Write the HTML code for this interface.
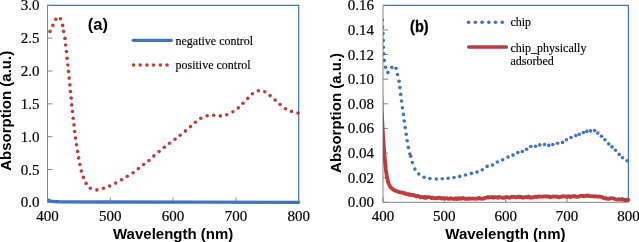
<!DOCTYPE html><html><head><meta charset="utf-8"><style>html,body{margin:0;padding:0;background:#fff;}svg{display:block;will-change:transform;}.tk{font-family:"Liberation Serif",serif;font-size:15px;fill:#000;stroke:#000;stroke-width:0.2px;}.lg{font-family:"Liberation Serif",serif;font-size:12px;fill:#000;stroke:#000;stroke-width:0.15px;}.ti{font-family:"Liberation Sans",sans-serif;font-size:15px;font-weight:bold;fill:#000;}.pl{font-family:"Liberation Sans",sans-serif;font-size:16.5px;font-weight:bold;fill:#000;}</style></head><body>
<svg width="639" height="242" viewBox="0 0 639 242">
<defs><clipPath id="ca"><rect x="48.00" y="0" width="260" height="242"/></clipPath>
<clipPath id="cb"><rect x="383.00" y="0" width="260" height="242"/></clipPath></defs>
<path d="M47.50,5.30H298.70V202.40" fill="none" stroke="#4174BA" stroke-width="1.2"/>
<path d="M47.50,5.30V202.40H298.70" fill="none" stroke="#868686" stroke-width="1"/>
<path d="M47.50,202.40h5" stroke="#868686" stroke-width="1"/>
<text class="tk" x="39.60" y="207.40" text-anchor="end">0.0</text>
<path d="M47.50,169.55h5" stroke="#868686" stroke-width="1"/>
<text class="tk" x="39.60" y="174.55" text-anchor="end">0.5</text>
<path d="M47.50,136.70h5" stroke="#868686" stroke-width="1"/>
<text class="tk" x="39.60" y="141.70" text-anchor="end">1.0</text>
<path d="M47.50,103.85h5" stroke="#868686" stroke-width="1"/>
<text class="tk" x="39.60" y="108.85" text-anchor="end">1.5</text>
<path d="M47.50,71.00h5" stroke="#868686" stroke-width="1"/>
<text class="tk" x="39.60" y="76.00" text-anchor="end">2.0</text>
<path d="M47.50,38.15h5" stroke="#868686" stroke-width="1"/>
<text class="tk" x="39.60" y="43.15" text-anchor="end">2.5</text>
<path d="M47.50,5.30h5" stroke="#868686" stroke-width="1"/>
<text class="tk" x="39.60" y="10.30" text-anchor="end">3.0</text>
<path d="M47.50,202.40v-5" stroke="#868686" stroke-width="1"/>
<text class="tk" x="47.50" y="221.00" text-anchor="middle">400</text>
<path d="M110.30,202.40v-5" stroke="#868686" stroke-width="1"/>
<text class="tk" x="110.30" y="221.00" text-anchor="middle">500</text>
<path d="M173.10,202.40v-5" stroke="#868686" stroke-width="1"/>
<text class="tk" x="173.10" y="221.00" text-anchor="middle">600</text>
<path d="M235.90,202.40v-5" stroke="#868686" stroke-width="1"/>
<text class="tk" x="235.90" y="221.00" text-anchor="middle">700</text>
<path d="M298.70,202.40v-5" stroke="#868686" stroke-width="1"/>
<text class="tk" x="298.70" y="221.00" text-anchor="middle">800</text>
<text class="ti" x="113.00" y="238.7">Wavelength (nm)</text>
<text class="ti" transform="translate(11.30,110.80) rotate(-90)" text-anchor="middle">Absorption (a.u.)</text>
<path d="M383.00,5.30H628.40V202.30" fill="none" stroke="#4174BA" stroke-width="1.2"/>
<path d="M383.00,5.30V202.30H628.40" fill="none" stroke="#868686" stroke-width="1"/>
<path d="M383.00,202.30h5" stroke="#868686" stroke-width="1"/>
<text class="tk" x="373.90" y="207.30" text-anchor="end">0.00</text>
<path d="M383.00,177.68h5" stroke="#868686" stroke-width="1"/>
<text class="tk" x="373.90" y="182.68" text-anchor="end">0.02</text>
<path d="M383.00,153.05h5" stroke="#868686" stroke-width="1"/>
<text class="tk" x="373.90" y="158.05" text-anchor="end">0.04</text>
<path d="M383.00,128.43h5" stroke="#868686" stroke-width="1"/>
<text class="tk" x="373.90" y="133.43" text-anchor="end">0.06</text>
<path d="M383.00,103.80h5" stroke="#868686" stroke-width="1"/>
<text class="tk" x="373.90" y="108.80" text-anchor="end">0.08</text>
<path d="M383.00,79.18h5" stroke="#868686" stroke-width="1"/>
<text class="tk" x="373.90" y="84.18" text-anchor="end">0.10</text>
<path d="M383.00,54.55h5" stroke="#868686" stroke-width="1"/>
<text class="tk" x="373.90" y="59.55" text-anchor="end">0.12</text>
<path d="M383.00,29.93h5" stroke="#868686" stroke-width="1"/>
<text class="tk" x="373.90" y="34.93" text-anchor="end">0.14</text>
<path d="M383.00,5.30h5" stroke="#868686" stroke-width="1"/>
<text class="tk" x="373.90" y="10.30" text-anchor="end">0.16</text>
<path d="M383.00,202.30v-5" stroke="#868686" stroke-width="1"/>
<text class="tk" x="383.00" y="221.00" text-anchor="middle">400</text>
<path d="M444.35,202.30v-5" stroke="#868686" stroke-width="1"/>
<text class="tk" x="444.35" y="221.00" text-anchor="middle">500</text>
<path d="M505.70,202.30v-5" stroke="#868686" stroke-width="1"/>
<text class="tk" x="505.70" y="221.00" text-anchor="middle">600</text>
<path d="M567.05,202.30v-5" stroke="#868686" stroke-width="1"/>
<text class="tk" x="567.05" y="221.00" text-anchor="middle">700</text>
<path d="M628.40,202.30v-5" stroke="#868686" stroke-width="1"/>
<text class="tk" x="628.40" y="221.00" text-anchor="middle">800</text>
<text class="ti" x="445.30" y="238.7">Wavelength (nm)</text>
<text class="ti" transform="translate(341.00,112.90) rotate(-90)" text-anchor="middle">Absorption (a.u.)</text>
<g clip-path="url(#ca)"><polyline points="47.50,199.80 49.00,200.60 51.00,201.10 54.00,201.50 60.00,201.80 100.00,202.00 200.00,202.10 298.70,202.30" fill="none" stroke="#4174BA" stroke-width="3.3" stroke-linecap="round" stroke-linejoin="round"/></g>
<circle cx="50.0" cy="31.4" r="1.8" fill="#BE3C3C"/>
<circle cx="52.9" cy="25.4" r="1.8" fill="#BE3C3C"/>
<circle cx="55.8" cy="19.3" r="1.8" fill="#BE3C3C"/>
<circle cx="60.5" cy="18.7" r="1.8" fill="#BE3C3C"/>
<circle cx="62.6" cy="25.4" r="1.8" fill="#BE3C3C"/>
<circle cx="63.6" cy="31.4" r="1.8" fill="#BE3C3C"/>
<circle cx="65.0" cy="38.4" r="1.8" fill="#BE3C3C"/>
<circle cx="65.6" cy="45.0" r="1.8" fill="#BE3C3C"/>
<circle cx="66.5" cy="51.6" r="1.8" fill="#BE3C3C"/>
<circle cx="67.1" cy="58.2" r="1.8" fill="#BE3C3C"/>
<circle cx="67.8" cy="65.0" r="1.8" fill="#BE3C3C"/>
<circle cx="68.5" cy="71.4" r="1.8" fill="#BE3C3C"/>
<circle cx="69.2" cy="78.1" r="1.8" fill="#BE3C3C"/>
<circle cx="69.9" cy="84.9" r="1.8" fill="#BE3C3C"/>
<circle cx="70.5" cy="91.5" r="1.8" fill="#BE3C3C"/>
<circle cx="71.2" cy="98.1" r="1.8" fill="#BE3C3C"/>
<circle cx="71.7" cy="104.9" r="1.8" fill="#BE3C3C"/>
<circle cx="72.5" cy="111.5" r="1.8" fill="#BE3C3C"/>
<circle cx="73.2" cy="118.3" r="1.8" fill="#BE3C3C"/>
<circle cx="74.0" cy="124.9" r="1.8" fill="#BE3C3C"/>
<circle cx="74.7" cy="131.5" r="1.8" fill="#BE3C3C"/>
<circle cx="75.5" cy="138.1" r="1.8" fill="#BE3C3C"/>
<circle cx="76.5" cy="144.8" r="1.8" fill="#BE3C3C"/>
<circle cx="77.6" cy="151.4" r="1.8" fill="#BE3C3C"/>
<circle cx="78.7" cy="157.9" r="1.8" fill="#BE3C3C"/>
<circle cx="79.9" cy="164.5" r="1.8" fill="#BE3C3C"/>
<circle cx="81.3" cy="171.1" r="1.8" fill="#BE3C3C"/>
<circle cx="83.4" cy="177.4" r="1.8" fill="#BE3C3C"/>
<circle cx="86.1" cy="183.4" r="1.8" fill="#BE3C3C"/>
<circle cx="90.4" cy="188.3" r="1.8" fill="#BE3C3C"/>
<circle cx="96.9" cy="189.9" r="1.8" fill="#BE3C3C"/>
<circle cx="103.4" cy="188.3" r="1.8" fill="#BE3C3C"/>
<circle cx="109.6" cy="186.0" r="1.8" fill="#BE3C3C"/>
<circle cx="115.7" cy="183.1" r="1.8" fill="#BE3C3C"/>
<circle cx="121.6" cy="179.7" r="1.8" fill="#BE3C3C"/>
<circle cx="127.3" cy="176.3" r="1.8" fill="#BE3C3C"/>
<circle cx="133.1" cy="172.7" r="1.8" fill="#BE3C3C"/>
<circle cx="138.4" cy="168.6" r="1.8" fill="#BE3C3C"/>
<circle cx="143.6" cy="164.5" r="1.8" fill="#BE3C3C"/>
<circle cx="148.9" cy="160.5" r="1.8" fill="#BE3C3C"/>
<circle cx="153.9" cy="155.9" r="1.8" fill="#BE3C3C"/>
<circle cx="159.1" cy="151.6" r="1.8" fill="#BE3C3C"/>
<circle cx="164.3" cy="147.3" r="1.8" fill="#BE3C3C"/>
<circle cx="169.5" cy="143.2" r="1.8" fill="#BE3C3C"/>
<circle cx="175.0" cy="139.3" r="1.8" fill="#BE3C3C"/>
<circle cx="180.2" cy="135.2" r="1.8" fill="#BE3C3C"/>
<circle cx="185.5" cy="130.9" r="1.8" fill="#BE3C3C"/>
<circle cx="190.5" cy="126.6" r="1.8" fill="#BE3C3C"/>
<circle cx="195.4" cy="122.3" r="1.8" fill="#BE3C3C"/>
<circle cx="200.8" cy="118.3" r="1.8" fill="#BE3C3C"/>
<circle cx="207.1" cy="115.7" r="1.8" fill="#BE3C3C"/>
<circle cx="213.6" cy="115.3" r="1.8" fill="#BE3C3C"/>
<circle cx="220.3" cy="115.9" r="1.8" fill="#BE3C3C"/>
<circle cx="226.8" cy="114.7" r="1.8" fill="#BE3C3C"/>
<circle cx="232.9" cy="111.8" r="1.8" fill="#BE3C3C"/>
<circle cx="238.3" cy="107.9" r="1.8" fill="#BE3C3C"/>
<circle cx="243.0" cy="103.2" r="1.8" fill="#BE3C3C"/>
<circle cx="247.7" cy="98.4" r="1.8" fill="#BE3C3C"/>
<circle cx="252.4" cy="93.7" r="1.8" fill="#BE3C3C"/>
<circle cx="258.4" cy="90.8" r="1.8" fill="#BE3C3C"/>
<circle cx="264.7" cy="91.7" r="1.8" fill="#BE3C3C"/>
<circle cx="270.1" cy="95.6" r="1.8" fill="#BE3C3C"/>
<circle cx="275.1" cy="100.1" r="1.8" fill="#BE3C3C"/>
<circle cx="280.1" cy="104.5" r="1.8" fill="#BE3C3C"/>
<circle cx="285.5" cy="108.8" r="1.8" fill="#BE3C3C"/>
<circle cx="291.5" cy="111.4" r="1.8" fill="#BE3C3C"/>
<circle cx="298.0" cy="113.1" r="1.8" fill="#BE3C3C"/>
<g clip-path="url(#cb)">
<polyline points="381.30,96.00 381.60,110.00 382.30,122.00 383.30,140.00 384.20,152.00 385.00,161.00 385.90,170.00 386.90,177.00 388.40,183.00 390.60,187.30 393.50,189.80 397.50,191.60 402.00,192.59 403.10,192.68 404.20,193.59 405.30,193.19 406.40,194.05 407.50,194.15 408.60,194.08 409.70,194.93 410.80,194.58 411.90,195.24 413.00,194.99 414.10,195.20 415.20,195.78 416.30,196.45 417.40,195.79 418.50,196.10 419.60,196.77 420.70,197.33 421.80,197.07 422.90,197.01 424.00,197.79 425.10,196.76 426.20,197.83 427.30,197.23 428.40,197.15 429.50,197.20 430.60,197.52 431.70,198.22 432.80,197.54 433.90,198.11 435.00,198.27 436.10,197.98 437.20,198.23 438.30,197.68 439.40,197.71 440.50,197.92 441.60,198.53 442.70,198.26 443.80,198.16 444.90,198.52 446.00,198.40 447.10,198.25 448.20,198.86 449.30,198.75 450.40,198.22 451.50,198.62 452.60,198.57 453.70,199.00 454.80,198.83 455.90,198.31 457.00,199.15 458.10,198.13 459.20,198.50 460.30,198.91 461.40,198.17 462.50,198.56 463.60,198.01 464.70,198.75 465.80,198.86 466.90,198.62 468.00,198.97 469.10,198.29 470.20,198.73 471.30,198.60 472.40,198.57 473.50,198.41 474.60,198.86 475.70,198.97 476.80,198.39 477.90,198.60 479.00,197.86 480.10,198.61 481.20,198.52 482.30,198.92 483.40,198.70 484.50,197.92 485.60,197.79 486.70,197.87 487.80,197.01 488.90,197.52 490.00,197.15 491.10,197.07 492.20,196.98 493.30,197.82 494.40,197.03 495.50,197.16 496.60,197.31 497.70,197.87 498.80,196.90 499.90,197.32 501.00,197.43 502.10,197.81 503.20,197.71 504.30,197.75 505.40,197.03 506.50,197.18 507.60,197.10 508.70,197.71 509.80,197.79 510.90,196.80 512.00,196.82 513.10,196.87 514.20,196.86 515.30,197.14 516.40,197.25 517.50,196.85 518.60,196.52 519.70,197.01 520.80,196.94 521.90,197.17 523.00,197.63 524.10,197.31 525.20,197.09 526.30,197.21 527.40,197.27 528.50,196.52 529.60,197.53 530.70,197.38 531.80,197.49 532.90,197.39 534.00,196.90 535.10,196.90 536.20,196.54 537.30,197.17 538.40,196.48 539.50,196.48 540.60,196.64 541.70,196.58 542.80,196.78 543.90,196.42 545.00,196.35 546.10,196.52 547.20,196.45 548.30,196.75 549.40,196.34 550.50,197.34 551.60,197.02 552.70,196.45 553.80,196.56 554.90,196.67 556.00,196.68 557.10,196.38 558.20,197.24 559.30,197.40 560.40,196.75 561.50,196.75 562.60,196.25 563.70,196.25 564.80,196.52 565.90,196.40 567.00,197.05 568.10,196.23 569.20,196.04 570.30,197.14 571.40,196.61 572.50,196.13 573.60,196.58 574.70,195.94 575.80,196.49 576.90,196.96 578.00,196.76 579.10,196.49 580.20,195.90 581.30,195.96 582.40,195.66 583.50,196.32 584.60,195.96 585.70,196.20 586.80,195.61 587.90,195.42 589.00,196.07 590.10,196.23 591.20,196.06 592.30,196.21 593.40,196.42 594.50,196.53 595.60,196.12 596.70,196.67 597.80,196.65 598.90,196.42 600.00,196.58 601.10,197.05 602.20,197.19 603.30,197.88 604.40,198.36 605.50,197.89 606.60,198.60 607.70,198.78 608.80,198.86 609.90,198.28 611.00,198.22 612.10,198.35 613.20,198.44 614.30,198.57 615.40,199.17 616.50,199.57 617.60,199.56 618.70,199.20 619.80,199.47 620.90,199.71 622.00,198.92 623.10,199.68 624.20,200.04 625.30,199.95 626.40,199.98 627.50,199.72 628.40,199.80" fill="none" stroke="#BE3C3C" stroke-width="3.8" stroke-linecap="round" stroke-linejoin="round"/>
<circle cx="381.0" cy="13.3" r="1.8" fill="#4174BA"/>
<circle cx="382.3" cy="20.1" r="1.8" fill="#4174BA"/>
<circle cx="382.6" cy="26.9" r="1.8" fill="#4174BA"/>
<circle cx="383.0" cy="33.6" r="1.8" fill="#4174BA"/>
<circle cx="383.2" cy="40.4" r="1.8" fill="#4174BA"/>
<circle cx="383.4" cy="47.2" r="1.8" fill="#4174BA"/>
<circle cx="383.8" cy="53.8" r="1.8" fill="#4174BA"/>
<circle cx="384.3" cy="60.4" r="1.8" fill="#4174BA"/>
<circle cx="385.5" cy="67.2" r="1.8" fill="#4174BA"/>
<circle cx="387.9" cy="72.6" r="1.8" fill="#4174BA"/>
<circle cx="391.8" cy="67.4" r="1.8" fill="#4174BA"/>
<circle cx="396.0" cy="68.2" r="1.8" fill="#4174BA"/>
<circle cx="397.5" cy="74.5" r="1.8" fill="#4174BA"/>
<circle cx="399.1" cy="81.2" r="1.8" fill="#4174BA"/>
<circle cx="399.9" cy="87.6" r="1.8" fill="#4174BA"/>
<circle cx="400.7" cy="94.4" r="1.8" fill="#4174BA"/>
<circle cx="401.5" cy="101.0" r="1.8" fill="#4174BA"/>
<circle cx="402.4" cy="107.7" r="1.8" fill="#4174BA"/>
<circle cx="403.4" cy="114.4" r="1.8" fill="#4174BA"/>
<circle cx="404.3" cy="121.0" r="1.8" fill="#4174BA"/>
<circle cx="405.2" cy="127.6" r="1.8" fill="#4174BA"/>
<circle cx="406.2" cy="134.3" r="1.8" fill="#4174BA"/>
<circle cx="407.1" cy="140.75" r="1.8" fill="#4174BA"/>
<circle cx="408.4" cy="147.4" r="1.8" fill="#4174BA"/>
<circle cx="409.9" cy="154.0" r="1.8" fill="#4174BA"/>
<circle cx="410.7" cy="156.2" r="1.8" fill="#4174BA"/>
<circle cx="412.4" cy="162.6" r="1.8" fill="#4174BA"/>
<circle cx="414.9" cy="169.1" r="1.8" fill="#4174BA"/>
<circle cx="418.8" cy="174.0" r="1.8" fill="#4174BA"/>
<circle cx="424.1" cy="177.2" r="1.8" fill="#4174BA"/>
<circle cx="429.9" cy="178.6" r="1.8" fill="#4174BA"/>
<circle cx="436.3" cy="179.0" r="1.8" fill="#4174BA"/>
<circle cx="442.3" cy="178.8" r="1.8" fill="#4174BA"/>
<circle cx="448.1" cy="178.3" r="1.8" fill="#4174BA"/>
<circle cx="454.0" cy="177.5" r="1.8" fill="#4174BA"/>
<circle cx="459.7" cy="176.4" r="1.8" fill="#4174BA"/>
<circle cx="465.5" cy="175.0" r="1.8" fill="#4174BA"/>
<circle cx="471.4" cy="173.4" r="1.8" fill="#4174BA"/>
<circle cx="477.0" cy="172.1" r="1.8" fill="#4174BA"/>
<circle cx="482.3" cy="169.8" r="1.8" fill="#4174BA"/>
<circle cx="487.1" cy="166.4" r="1.8" fill="#4174BA"/>
<circle cx="492.6" cy="165.0" r="1.8" fill="#4174BA"/>
<circle cx="497.4" cy="162.0" r="1.8" fill="#4174BA"/>
<circle cx="502.7" cy="159.8" r="1.8" fill="#4174BA"/>
<circle cx="508.0" cy="157.1" r="1.8" fill="#4174BA"/>
<circle cx="513.0" cy="155.1" r="1.8" fill="#4174BA"/>
<circle cx="517.8" cy="152.6" r="1.8" fill="#4174BA"/>
<circle cx="522.4" cy="151.5" r="1.8" fill="#4174BA"/>
<circle cx="526.5" cy="149.3" r="1.8" fill="#4174BA"/>
<circle cx="530.8" cy="146.5" r="1.8" fill="#4174BA"/>
<circle cx="535.6" cy="146.2" r="1.8" fill="#4174BA"/>
<circle cx="539.8" cy="144.9" r="1.8" fill="#4174BA"/>
<circle cx="544.5" cy="144.5" r="1.8" fill="#4174BA"/>
<circle cx="548.8" cy="145.4" r="1.8" fill="#4174BA"/>
<circle cx="552.8" cy="144.5" r="1.8" fill="#4174BA"/>
<circle cx="557.6" cy="143.2" r="1.8" fill="#4174BA"/>
<circle cx="562.6" cy="142.4" r="1.8" fill="#4174BA"/>
<circle cx="566.5" cy="139.7" r="1.8" fill="#4174BA"/>
<circle cx="571.1" cy="137.5" r="1.8" fill="#4174BA"/>
<circle cx="575.8" cy="135.6" r="1.8" fill="#4174BA"/>
<circle cx="579.2" cy="134.3" r="1.8" fill="#4174BA"/>
<circle cx="583.4" cy="132.5" r="1.8" fill="#4174BA"/>
<circle cx="586.8" cy="131.4" r="1.8" fill="#4174BA"/>
<circle cx="590.5" cy="130.9" r="1.8" fill="#4174BA"/>
<circle cx="594.6" cy="130.6" r="1.8" fill="#4174BA"/>
<circle cx="597.8" cy="133.1" r="1.8" fill="#4174BA"/>
<circle cx="601.5" cy="136.2" r="1.8" fill="#4174BA"/>
<circle cx="604.9" cy="139.8" r="1.8" fill="#4174BA"/>
<circle cx="608.7" cy="143.9" r="1.8" fill="#4174BA"/>
<circle cx="612.0" cy="146.9" r="1.8" fill="#4174BA"/>
<circle cx="615.5" cy="150.3" r="1.8" fill="#4174BA"/>
<circle cx="619.2" cy="154.4" r="1.8" fill="#4174BA"/>
<circle cx="622.5" cy="157.8" r="1.8" fill="#4174BA"/>
<circle cx="627.1" cy="160.8" r="1.8" fill="#4174BA"/>
</g>
<text class="pl" x="87.8" y="29.6">(a)</text>
<text class="pl" transform="translate(410.1,31.8) scale(0.88,1)" style="stroke:#000;stroke-width:0.35px">(b)</text>
<path d="M133.3,40.3H171.3" stroke="#4174BA" stroke-width="3.3" stroke-linecap="round"/>
<text class="lg" x="175.5" y="44.6">negative control</text>
<circle cx="133.50" cy="65.0" r="1.8" fill="#BE3C3C"/>
<circle cx="140.20" cy="65.0" r="1.8" fill="#BE3C3C"/>
<circle cx="146.90" cy="65.0" r="1.8" fill="#BE3C3C"/>
<circle cx="153.60" cy="65.0" r="1.8" fill="#BE3C3C"/>
<circle cx="160.30" cy="65.0" r="1.8" fill="#BE3C3C"/>
<circle cx="167.00" cy="65.0" r="1.8" fill="#BE3C3C"/>
<text class="lg" x="175.5" y="69.3">positive control</text>
<circle cx="468.60" cy="22.2" r="1.8" fill="#4174BA"/>
<circle cx="475.34" cy="22.2" r="1.8" fill="#4174BA"/>
<circle cx="482.08" cy="22.2" r="1.8" fill="#4174BA"/>
<circle cx="488.82" cy="22.2" r="1.8" fill="#4174BA"/>
<circle cx="495.56" cy="22.2" r="1.8" fill="#4174BA"/>
<circle cx="502.30" cy="22.2" r="1.8" fill="#4174BA"/>
<text class="lg" x="510.4" y="26.2">chip</text>
<path d="M468.6,47.0H506.5" stroke="#BE3C3C" stroke-width="3.3" stroke-linecap="round"/>
<text class="lg" x="510.4" y="51.8">chip_physically</text>
<text class="lg" x="510.4" y="65.0">adsorbed</text>
</svg></body></html>
